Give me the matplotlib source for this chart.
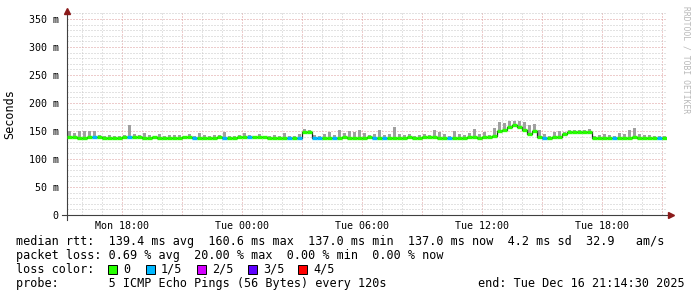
import matplotlib.pyplot as plt
from matplotlib.patches import Rectangle
import numpy as np

# 15-minute bins, hours counted from Mon 00:00 (start Mon 15:14:30, end Tue 21:14:30)
t_start = 15.2417
bin_h = 0.25

median = [
    140, 140, 138, 137, 139, 140, 139, 138, 137, 137,
    138, 139, 140, 140, 139, 138, 138, 139, 138, 137,
    137, 138, 138, 139, 139, 138, 138, 137, 137, 138,
    139, 138, 138, 137, 139, 140, 140, 140, 139, 139,
    138, 138, 138, 137, 138, 138, 137, 148, 149, 137,
    137, 138, 138, 137, 138, 139, 138, 137, 138, 138,
    139, 138, 137, 137, 138, 138, 137, 138, 139, 138,
    138, 139, 140, 139, 138, 137, 137, 138, 138, 138,
    139, 139, 138, 139, 140, 141, 150, 152, 158, 160,
    157, 152, 145, 150, 140, 138, 137, 139, 140, 145,
    148, 149, 149, 148, 149, 138, 138, 137, 138, 138,
    137, 138, 138, 139, 138, 138, 138, 137, 137, 137,
]
smoke_top = [
    150, 146, 150, 149, 150, 149, 143, 141, 142, 140,
    141, 143, 160, 144, 142, 146, 143, 141, 145, 141,
    142, 142, 142, 140, 145, 141, 146, 143, 141, 143,
    142, 148, 141, 141, 143, 146, 143, 141, 144, 140,
    141, 143, 140, 146, 141, 141, 144, 153, 151, 142,
    141, 145, 148, 143, 151, 146, 150, 148, 151, 146,
    142, 145, 152, 143, 145, 156, 145, 142, 144, 141,
    142, 145, 143, 152, 148, 145, 141, 150, 144, 142,
    146, 153, 144, 147, 143, 155, 165, 163, 168, 168,
    167, 165, 160, 162, 152, 145, 141, 147, 149, 148,
    152, 151, 152, 152, 153, 141, 142, 145, 143, 141,
    146, 144, 152, 155, 144, 142, 142, 141, 140, 140,
]
loss_bins = [5, 12, 25, 31, 36, 44, 46, 49, 50, 53, 61, 63, 76, 95, 109, 118]

tick_hours = [18, 24, 30, 36, 42]
tick_labels = ["Mon 18:00", "Tue 00:00", "Tue 06:00", "Tue 12:00", "Tue 18:00"]

loss_names = ["0", "1/5", "2/5", "3/5", "4/5"]
loss_colors = ["#26ff00", "#00b8ff", "#d400ff", "#5e00ff", "#ff0000"]

W, H = 697, 297
fig = plt.figure(figsize=(W / 100, H / 100), dpi=100)
ax = fig.add_axes([67 / W, 82 / H, 600 / W, 202 / H])
mono = "DejaVu Sans Mono"

t = t_start + bin_h * np.arange(len(median))
med = np.array(median, dtype=float)
top = np.array(smoke_top, dtype=float)

# grid
for h in range(16, 46):
    c = "#dc9a9a" if h % 3 == 0 else "#c6c6c6"
    ax.axvline(h, color=c, lw=0.72, ls=(0, (1, 2)), zorder=0)
for v in range(10, 361, 10):
    c = "#dc9a9a" if v % 50 == 0 else "#c6c6c6"
    ax.axhline(v, color=c, lw=0.72, ls=(0, (1, 2)), zorder=0)

# smoke
ax.bar(t + 0.04, top - med + 2, width=0.17, bottom=med - 1.5, align="edge",
       color="#a0a0a0", linewidth=0, zorder=1)

# median: dark step connectors, coloured by loss
ax.step(np.append(t, t[-1] + bin_h), np.append(med, med[-1]), where="post",
        color="#202020", lw=0.9, zorder=2)
cols = [loss_colors[1] if i in loss_bins else loss_colors[0] for i in range(len(med))]
ax.hlines(med, t, t + bin_h, colors=cols, lw=2.4, zorder=3)

ax.set_xlim(t_start, t_start + 30)
ax.set_ylim(0, 360.7)
for s in ax.spines.values():
    s.set_visible(False)
ax.set_xticks(tick_hours)
ax.set_xticklabels(tick_labels, fontfamily=mono, fontsize=7.2)
ax.set_yticks(range(0, 351, 50))
ax.set_yticklabels(["0"] + [f"{v} m" for v in range(50, 351, 50)], fontfamily=mono, fontsize=7.2)
ax.tick_params(axis="both", length=0, pad=4, colors="#000000")
ax.tick_params(axis="y", pad=6)
ax.set_ylabel("Seconds", fontfamily=mono, fontsize=8.5, labelpad=9)

# axes lines with arrows
ax.plot([0, 0], [-0.025, 1.0], transform=ax.transAxes, color="#404040", lw=0.8, clip_on=False)
ax.plot([-0.008, 1.004], [0, 0], transform=ax.transAxes, color="#404040", lw=0.8, clip_on=False)
ax.plot(0, 1.01, marker="^", ms=4, color="#8b1a1a", transform=ax.transAxes, clip_on=False)
ax.plot(1.007, 0, marker=">", ms=4, color="#8b1a1a", transform=ax.transAxes, clip_on=False)

fig.text(686 / W, 1 - 6 / H, "RRDTOOL / TOBI OETIKER", rotation=-90, ha="center", va="top",
         fontfamily=mono, fontsize=5.8, color="#b8b8b8")


def ftext(x, y, s, **kw):
    fig.text(x / W, 1 - y / H, s, fontfamily=mono, fontsize=8.5, va="center", **kw)


ftext(15.5, 241.5, "median rtt:  139.4 ms avg  160.6 ms max  137.0 ms min  137.0 ms now  4.2 ms sd  32.9   am/s")
ftext(15.5, 255.5, "packet loss: 0.69 % avg  20.00 % max  0.00 % min  0.00 % now")
ftext(15.5, 269.5, "loss color:")
sw_x = [108, 146, 197, 248, 298]
for x, name, c in zip(sw_x, loss_names, loss_colors):
    fig.add_artist(Rectangle((x / W, 1 - 273.5 / H), 8.5 / W, 8.5 / H, transform=fig.transFigure,
                             facecolor=c, edgecolor="black", lw=0.7))
    ftext(x + 15, 269.5, name)
ftext(15.5, 283.5, "probe:       5 ICMP Echo Pings (56 Bytes) every 120s")
ftext(478, 283.5, "end: Tue Dec 16 21:14:30 2025")

fig.savefig("out.png", dpi=100)
